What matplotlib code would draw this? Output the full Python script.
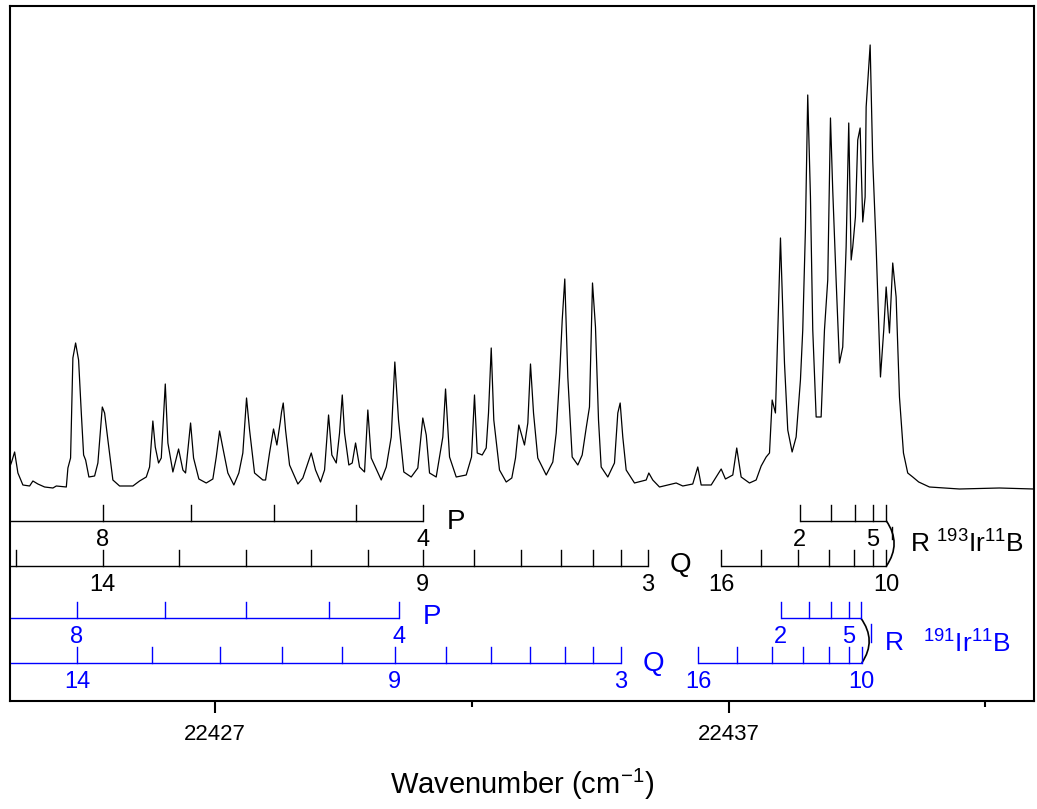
import matplotlib
matplotlib.use("Agg")
import matplotlib.pyplot as plt
from matplotlib.path import Path
from matplotlib.patches import PathPatch
from matplotlib.ticker import FixedLocator, NullLocator

# ---------------------------------------------------------------------------
# Spectrum: wavenumber / cm-1 and intensity (arb. units)
# ---------------------------------------------------------------------------
spec_wn = [
    22423.003, 22423.032, 22423.091, 22423.155, 22423.252, 22423.383, 22423.447, 22423.544,
    22423.675, 22423.837, 22423.903, 22424.098, 22424.129, 22424.181, 22424.226, 22424.279,
    22424.337, 22424.390, 22424.435, 22424.474, 22424.538, 22424.649, 22424.713, 22424.799,
    22424.844, 22424.908, 22425.005, 22425.136, 22425.395, 22425.525, 22425.656, 22425.720,
    22425.784, 22425.831, 22425.895, 22425.948, 22426.026, 22426.077, 22426.174, 22426.285,
    22426.369, 22426.421, 22426.519, 22426.577, 22426.680, 22426.824, 22426.953, 22427.019,
    22427.084, 22427.148, 22427.245, 22427.362, 22427.459, 22427.537, 22427.609, 22427.668,
    22427.765, 22427.927, 22427.980, 22428.057, 22428.135, 22428.200, 22428.266, 22428.291,
    22428.324, 22428.369, 22428.447, 22428.609, 22428.706, 22428.870, 22428.953, 22429.051,
    22429.129, 22429.207, 22429.271, 22429.357, 22429.421, 22429.474, 22429.518, 22429.602,
    22429.668, 22429.733, 22429.811, 22429.908, 22429.972, 22430.038, 22430.233, 22430.331,
    22430.428, 22430.498, 22430.570, 22430.673, 22430.817, 22430.946, 22431.043, 22431.110,
    22431.174, 22431.304, 22431.433, 22431.486, 22431.564, 22431.694, 22431.889, 22431.992,
    22432.050, 22432.103, 22432.200, 22432.278, 22432.323, 22432.376, 22432.426, 22432.537,
    22432.668, 22432.777, 22432.849, 22432.913, 22433.024, 22433.089, 22433.141, 22433.200,
    22433.283, 22433.447, 22433.576, 22433.642, 22433.706, 22433.759, 22433.809, 22433.868,
    22433.953, 22434.063, 22434.148, 22434.226, 22434.290, 22434.349, 22434.407, 22434.466,
    22434.518, 22434.647, 22434.777, 22434.842, 22434.888, 22434.939, 22435.005, 22435.167,
    22435.395, 22435.446, 22435.523, 22435.654, 22435.979, 22436.108, 22436.302, 22436.400,
    22436.466, 22436.661, 22436.856, 22436.939, 22437.082, 22437.159, 22437.245, 22437.407,
    22437.537, 22437.635, 22437.732, 22437.797, 22437.849, 22437.913, 22438.011, 22438.089,
    22438.153, 22438.238, 22438.316, 22438.400, 22438.445, 22438.497, 22438.542, 22438.595,
    22438.640, 22438.706, 22438.803, 22438.868, 22438.932, 22438.985, 22439.029, 22439.095,
    22439.160, 22439.224, 22439.290, 22439.341, 22439.388, 22439.419, 22439.471, 22439.516,
    22439.563, 22439.614, 22439.660, 22439.680, 22439.758, 22439.808, 22439.875, 22439.959,
    22440.023, 22440.070, 22440.134, 22440.198, 22440.264, 22440.329, 22440.407, 22440.490,
    22440.588, 22440.704, 22440.913, 22441.497, 22442.276, 22442.938,
]
spec_int = [
    22, 26, 36, 15, 3, 2, 7, 4, 1, 0, 2, 1, 20, 30, 130, 145,
    128, 75, 33, 28, 11, 12, 25, 81, 75, 48, 8, 2, 2, 7, 11, 21,
    67, 41, 25, 30, 104, 45, 16, 39, 18, 15, 65, 30, 9, 5, 9, 31,
    57, 40, 15, 3, 15, 35, 90, 58, 15, 8, 8, 35, 59, 43, 66, 76,
    85, 58, 23, 4, 10, 35, 18, 6, 18, 73, 33, 25, 55, 93, 55, 23,
    25, 45, 21, 16, 78, 30, 8, 21, 51, 126, 68, 16, 11, 20, 70, 53,
    15, 11, 51, 99, 31, 11, 13, 31, 93, 35, 33, 40, 75, 140, 68, 18,
    6, 10, 30, 63, 43, 65, 124, 75, 30, 13, 26, 55, 110, 168, 209, 111,
    31, 23, 33, 60, 81, 205, 161, 68, 21, 11, 25, 75, 85, 51, 18, 5,
    8, 15, 8, 1, 5, 2, 4, 21, 3, 3, 19, 9, 13, 40, 11, 5,
    8, 22, 31, 35, 88, 75, 250, 125, 58, 36, 51, 108, 158, 258, 393, 291,
    158, 71, 71, 158, 208, 370, 298, 208, 125, 141, 241, 365, 228, 241, 271, 348,
    360, 266, 291, 381, 443, 328, 241, 111, 158, 201, 155, 225, 191, 91, 35, 15,
    11, 6, 1, -1, 0, -1,
]

# ---------------------------------------------------------------------------
# Line assignments (Fortrat ladders)
# ---------------------------------------------------------------------------
# 193Ir11B (black)
p193_J = [8, 7, 6, 5, 4]
p193_wn = [22424.810, 22426.519, 22428.135, 22429.733, 22431.043]
q193_J = [15, 14, 13, 12, 11, 10, 9, 8, 7, 6, 5, 4, 3]
q193_wn = [22423.124, 22424.810, 22426.285, 22427.590, 22428.870, 22429.972, 22431.043,
           22432.050, 22432.950, 22433.726, 22434.353, 22434.898, 22435.426]
r193_lo_J = [2, 3, 4, 5, 6]
r193_lo_wn = [22438.387, 22438.988, 22439.454, 22439.808, 22440.075]
r193_hi_J = [16, 15, 14, 13, 12, 11, 10]
r193_hi_wn = [22436.862, 22437.641, 22438.361, 22438.955, 22439.442, 22439.808, 22440.075]
r193_head = 22440.188

# 191Ir11B (blue)
p191_J = [8, 7, 6, 5, 4]
p191_wn = [22424.304, 22426.026, 22427.604, 22429.207, 22430.576]
q191_J = [14, 13, 12, 11, 10, 9, 8, 7, 6, 5, 4, 3]
q191_wn = [22424.304, 22425.773, 22427.097, 22428.305, 22429.474, 22430.492, 22431.486,
           22432.376, 22433.137, 22433.805, 22434.353, 22434.898]
r191_lo_J = [2, 3, 4, 5, 6]
r191_lo_wn = [22438.020, 22438.560, 22438.988, 22439.341, 22439.575]
r191_hi_J = [16, 15, 14, 13, 12, 11, 10]
r191_hi_wn = [22436.414, 22437.173, 22437.847, 22438.455, 22438.955, 22439.341, 22439.594]
r191_head = 22439.775

# which J values carry a number
p_marked = [8, 4]
q_marked = [14, 9, 3]
r_lo_marked = [2, 5]
r_hi_marked = [16, 10]

major_ticks = [22427, 22437]
minor_ticks = [22432, 22442]
xmin, xmax = 22423.0, 22442.95

BLUE = "#0000ff"
NUM_FS = 17
BRANCH_FS = 20

plt.rcParams["font.family"] = ["Liberation Sans", "DejaVu Sans"]
plt.rcParams["axes.unicode_minus"] = False


def draw_ladder(ax, wn, J, marked, y, color, start=None, tick_h=16, num_dy=-19):
    x0 = min(wn) if start is None else start
    ax.plot([x0, max(wn)], [y, y], color=color, lw=1.0, solid_capstyle="butt")
    for w, j in zip(wn, J):
        ax.plot([w, w], [y, y + tick_h], color=color, lw=1.0)
        if j in marked:
            ax.text(w, y + num_dy, str(j), color=color, fontsize=NUM_FS,
                    ha="center", va="center")


def bracket(ax, x_top, y_top, x_bot, y_bot, bulge):
    xm = max(x_top, x_bot) + 2 * bulge
    ym = (y_top + y_bot) / 2
    path = Path([(x_top, y_top), (xm, ym), (x_bot, y_bot)],
                [Path.MOVETO, Path.CURVE3, Path.CURVE3])
    ax.add_patch(PathPatch(path, fc="none", ec="black", lw=1.2))


fig = plt.figure(figsize=(10.37, 8.09), dpi=100)
ax = fig.add_axes([0.0096, 0.1335, 0.9875, 0.8591])

ax.plot(spec_wn, spec_int, color="black", lw=0.9)

# black ladders (193Ir11B)
y_p, y_q = -33, -78
draw_ladder(ax, p193_wn, p193_J, p_marked, y_p, "black", start=xmin)
draw_ladder(ax, q193_wn, q193_J, q_marked, y_q, "black", start=xmin)
draw_ladder(ax, r193_lo_wn, r193_lo_J, r_lo_marked, y_p, "black")
draw_ladder(ax, r193_hi_wn, r193_hi_J, r_hi_marked, y_q, "black")
bracket(ax, r193_lo_wn[-1], y_p, r193_hi_wn[-1], y_q, 0.15)
ax.plot([r193_head, r193_head], [-39, -51], color="black", lw=1.0)
ax.text(22431.69, y_p - 1, "P", fontsize=BRANCH_FS, ha="center", va="center")
ax.text(22436.07, y_q + 1, "Q", fontsize=BRANCH_FS, ha="center", va="center")
ax.text(22440.54, -55, r"R $^{\mathregular{193}}$Ir$^{\mathregular{11}}$B",
        fontsize=19, ha="left", va="center")

# blue ladders (191Ir11B)
y_p2, y_q2 = -130, -175
draw_ladder(ax, p191_wn, p191_J, p_marked, y_p2, BLUE, start=xmin)
draw_ladder(ax, q191_wn, q191_J, q_marked, y_q2, BLUE, start=xmin)
draw_ladder(ax, r191_lo_wn, r191_lo_J, r_lo_marked, y_p2, BLUE)
draw_ladder(ax, r191_hi_wn, r191_hi_J, r_hi_marked, y_q2, BLUE)
bracket(ax, r191_lo_wn[-1], y_p2, r191_hi_wn[-1], y_q2, 0.15)
ax.plot([r191_head, r191_head], [-136, -154], color=BLUE, lw=1.0)
ax.text(22431.22, y_p2 + 1, "P", color=BLUE, fontsize=BRANCH_FS, ha="center", va="center")
ax.text(22435.54, y_q2 - 1, "Q", color=BLUE, fontsize=BRANCH_FS, ha="center", va="center")
ax.text(22440.04, -155, "R", color=BLUE, fontsize=19, ha="left", va="center")
ax.text(22440.78, -155, r"$^{\mathregular{191}}$Ir$^{\mathregular{11}}$B", color=BLUE,
        fontsize=19, ha="left", va="center")

ax.set_xlim(xmin, xmax)
ax.set_ylim(-213, 482)
ax.xaxis.set_major_locator(FixedLocator(major_ticks))
ax.xaxis.set_minor_locator(FixedLocator(minor_ticks))
ax.yaxis.set_major_locator(NullLocator())
ax.tick_params(axis="x", which="major", direction="out", length=8.5, width=1.5,
               labelsize=16, pad=8)
ax.tick_params(axis="x", which="minor", direction="out", length=4.5, width=1.5)
for sp in ax.spines.values():
    sp.set_linewidth(1.5)

ax.set_xlabel(r"Wavenumber (cm$^{\mathregular{-1}}$)", fontsize=21, labelpad=16)

fig.savefig("out.png", dpi=100)
